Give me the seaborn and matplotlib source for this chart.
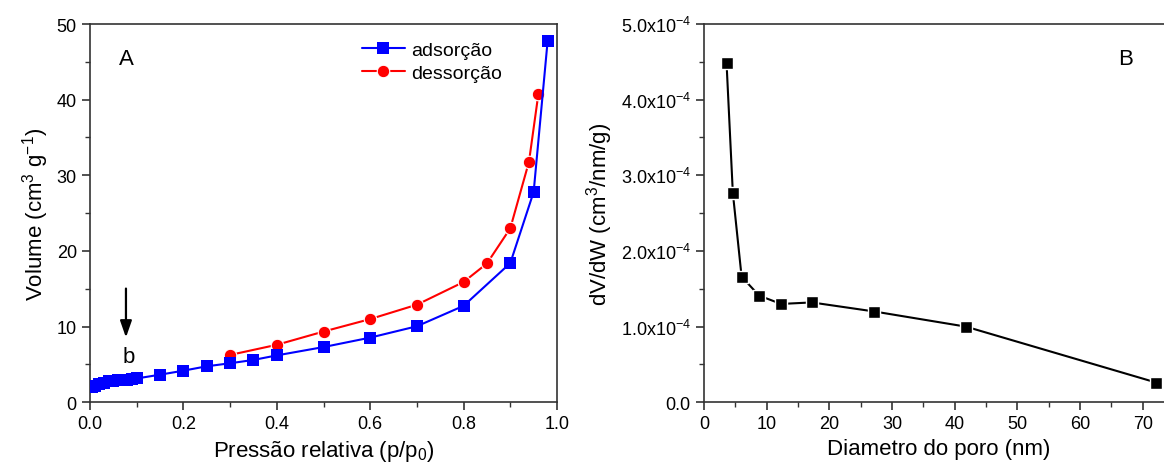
import matplotlib
matplotlib.use("Agg")
import matplotlib.pyplot as plt
import seaborn as sns
import numpy as np
import pandas as pd
from matplotlib.ticker import MultipleLocator, FuncFormatter

# ---- data ----
ads_p = [0.005, 0.01, 0.02, 0.03, 0.04, 0.05, 0.06, 0.07, 0.08, 0.09, 0.10,
         0.15, 0.20, 0.25, 0.30, 0.35, 0.40, 0.50, 0.60, 0.70, 0.80, 0.90, 0.95, 0.98]
ads_v = [2.05, 2.2, 2.45, 2.6, 2.75, 2.85, 2.95, 3.0, 3.0, 3.05, 3.15,
         3.65, 4.18, 4.76, 5.16, 5.6, 6.2, 7.3, 8.55, 10.05, 12.75, 18.4, 27.8, 47.8]
des_p = [0.30, 0.40, 0.50, 0.60, 0.70, 0.80, 0.85, 0.90, 0.94, 0.96]
des_v = [6.26, 7.6, 9.35, 11.0, 12.9, 15.9, 18.35, 23.0, 31.8, 40.7]

pore_d = [3.6, 4.6, 6.0, 8.8, 12.3, 17.2, 27.2, 41.8, 72.2]
dvdw = [4.48e-4, 2.77e-4, 1.66e-4, 1.41e-4, 1.30e-4, 1.32e-4, 1.20e-4, 1.00e-4, 0.26e-4]

sns.set_style("white")
plt.rcParams['font.family'] = ['Liberation Sans', 'DejaVu Sans']
plt.rcParams['mathtext.fontset'] = 'custom'
plt.rcParams['mathtext.rm'] = 'Liberation Sans'
plt.rcParams['mathtext.it'] = 'Liberation Sans:italic'
plt.rcParams['mathtext.default'] = 'regular'
plt.rcParams['text.color'] = 'black'
plt.rcParams['axes.labelcolor'] = 'black'
plt.rcParams['xtick.labelcolor'] = 'black'
plt.rcParams['ytick.labelcolor'] = 'black'

W, H = 1164, 477
fig = plt.figure(figsize=(W / 100, H / 100), dpi=100)
axA = fig.add_axes([90 / W, 1 - 403.3 / H, (557 - 90) / W, (403.3 - 25) / H])
axB = fig.add_axes([704 / W, 1 - 403.3 / H, (75 * 6.267) / W, (403.3 - 25) / H])

tick_fs = 13
lab_fs = 16

# ---- Panel A ----
dfa = pd.DataFrame({"p": ads_p, "v": ads_v})
dfd = pd.DataFrame({"p": des_p, "v": des_v})
sns.lineplot(data=dfa, x="p", y="v", ax=axA, color="#0000ff", marker="s",
             markersize=8, markeredgecolor="#0000ff", markeredgewidth=0,
             linewidth=1.5, sort=False, estimator=None, label="adsorção", zorder=3)
sns.lineplot(data=dfd, x="p", y="v", ax=axA, color="#ff0000", marker="o",
             markersize=9, markeredgecolor="white", markeredgewidth=0.8,
             linewidth=1.5, sort=False, estimator=None, label="dessorção", zorder=2)
axA.set_xlim(0, 1.0)
axA.set_ylim(0, 50)
axA.xaxis.set_major_locator(MultipleLocator(0.2))
axA.xaxis.set_minor_locator(MultipleLocator(0.1))
axA.yaxis.set_major_locator(MultipleLocator(10))
axA.yaxis.set_minor_locator(MultipleLocator(5))
axA.xaxis.set_major_formatter(FuncFormatter(lambda v, p: f"{v:.1f}"))
axA.set_xlabel("Pressão relativa (p/p$_0$)", fontsize=lab_fs)
axA.set_ylabel("Volume (cm$^3$ g$^{-1}$)", fontsize=lab_fs)
leg = axA.legend(loc="upper left", bbox_to_anchor=(0.545, 1.0), frameon=False,
                 fontsize=14, handlelength=2.2, handletextpad=0.3, labelspacing=0.25)
axA.text(0.077, 45.5, "A", fontsize=16, ha="center", va="center")
axA.annotate("", xy=(0.077, 8.2), xytext=(0.077, 15.4),
             arrowprops=dict(arrowstyle="-|>,head_width=0.35,head_length=1.0",
                             color="black", lw=1.6))
axA.text(0.082, 6.1, "b", fontsize=16, ha="center", va="center")

# ---- Panel B ----
dfb = pd.DataFrame({"d": pore_d, "y": dvdw})
sns.lineplot(data=dfb, x="d", y="y", ax=axB, color="black", marker="s",
             markersize=9, markeredgecolor="white", markeredgewidth=1.0,
             linewidth=1.5, sort=False, estimator=None)
axB.set_xlim(0, 75)
axB.set_ylim(0, 5e-4)
axB.xaxis.set_major_locator(MultipleLocator(10))
axB.xaxis.set_minor_locator(MultipleLocator(5))
axB.yaxis.set_major_locator(MultipleLocator(1e-4))
axB.yaxis.set_minor_locator(MultipleLocator(0.5e-4))


def fmtB(v, pos):
    if abs(v) < 1e-12:
        return "0.0"
    return f"{v / 1e-4:.1f}x10$^{{-4}}$"


axB.yaxis.set_major_formatter(FuncFormatter(fmtB))
axB.set_xlabel("Diametro do poro (nm)", fontsize=lab_fs)
axB.set_ylabel("dV/dW (cm$^3$/nm/g)", fontsize=lab_fs)
axB.text(67.2, 4.55e-4, "B", fontsize=16, ha="center", va="center")

for ax in (axA, axB):
    for s in ax.spines.values():
        s.set_color("#333333")
        s.set_linewidth(1.2)
    ax.tick_params(axis="both", which="major", direction="out", length=6, width=1.2,
                   labelsize=tick_fs, bottom=True, left=True, top=False, right=False,
                   color="#333333")
    ax.tick_params(axis="both", which="minor", direction="out", length=3.5, width=1.0,
                   bottom=True, left=True, top=False, right=False, color="#333333")
axB.spines["right"].set_visible(False)

fig.savefig("out.png", dpi=100)
